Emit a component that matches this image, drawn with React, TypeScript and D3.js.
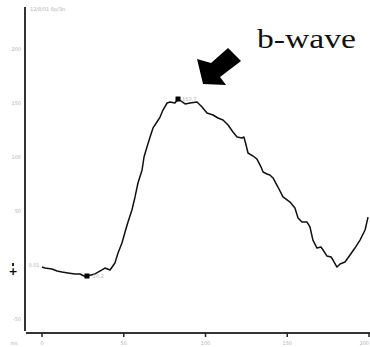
import React, { useRef, useEffect } from 'react';
import * as d3 from 'd3';

// ERG trace (ms, µV)
const timeMs = [
  0, 1.8, 6.1, 9.2, 12.2, 15.9, 20.2, 23.2, 25.7, 27.5, 32.4, 36.7, 38.5, 41.6,
  44.6, 46.5, 48.9, 50.8, 52.6, 55.0, 56.9, 58.7, 61.2, 62.4, 64.2, 66.1, 67.9,
  70.3, 72.2, 74.0, 76.5, 78.3, 81.3, 83.2, 87.5, 90.5, 94.8, 97.9, 100.9, 104.6,
  107.6, 110.7, 113.8, 116.8, 119.3, 122.3, 123.5, 124.8, 126.0, 129.1, 131.5,
  134.0, 135.2, 137.6, 139.4, 141.3, 144.3, 147.4, 151.7, 154.7, 156.6, 159.0,
  162.1, 163.9, 165.7, 168.2, 170.6, 171.9, 174.3, 176.8, 178.0, 180.4, 182.3,
  185.3, 188.4, 191.4, 194.5, 197.6, 199.4,
];
const amplitude = [
  -1.9, -2.8, -3.7, -5.6, -6.5, -7.4, -8.3, -8.3, -10.2, -10.2, -8.3, -4.6, -2.8, -4.6,
  1.9, 11.1, 20.4, 30.6, 39.8, 50.9, 63.0, 75.9, 88.0, 100.0, 109.3, 118.5, 126.9,
  132.4, 137.0, 143.5, 150.0, 150.9, 150.0, 153.7, 149.1, 150.0, 150.9, 146.3, 140.7, 138.9,
  136.1, 134.3, 129.6, 123.1, 118.5, 117.6, 118.5, 111.1, 103.7, 100.9, 98.1,
  90.7, 86.1, 84.3, 83.3, 80.6, 72.2, 63.0, 58.3, 52.8, 43.5, 39.8,
  39.8, 35.2, 23.1, 15.7, 16.7, 13.9, 8.3, 7.4, 4.6, -1.9, 0.9,
  2.8, 9.3, 15.7, 23.1, 32.4, 44.4,
];
const xTicks = [0, 50, 100, 150, 200];
const yTicks = [200, 150, 100, 50, -50];
const aWave = { t: 27.5, v: -10.2, label: '-10.2' };
const bWave = { t: 83.2, v: 153.7, label: '153.7' };
const title = '12/8/01 8p/3n';
const startLabel = '0.01';

function ErgChart() {
  const svgRef = useRef<SVGSVGElement>(null);

  useEffect(() => {
    const svg = d3.select(svgRef.current);
    svg.selectAll('*').remove();

    const x = d3.scaleLinear().domain([0, 200]).range([42, 369]);
    const y = d3.scaleLinear().domain([0, 150]).range([265, 103]);
    const grey = '#b4b4b4';
    const data = timeMs.map((t, i) => ({ t, v: amplitude[i] }));

    // axes
    svg.append('line')
      .attr('x1', 25).attr('x2', 25).attr('y1', 7).attr('y2', 331)
      .attr('stroke', '#333').attr('stroke-width', 2);
    svg.append('line')
      .attr('x1', 26).attr('x2', 370).attr('y1', 333).attr('y2', 333)
      .attr('stroke', '#333').attr('stroke-width', 2);

    svg.append('g')
      .selectAll('line')
      .data(xTicks)
      .enter().append('line')
      .attr('x1', d => x(d)).attr('x2', d => x(d))
      .attr('y1', 333).attr('y2', 337)
      .attr('stroke', '#222').attr('stroke-width', 1.5);

    // last label would run off the right edge, so anchor it at its end
    const last = xTicks[xTicks.length - 1];
    svg.append('g')
      .attr('font-family', 'DejaVu Sans, sans-serif')
      .attr('font-size', 5)
      .attr('fill', grey)
      .selectAll('text')
      .data(xTicks)
      .enter().append('text')
      .attr('x', d => (d === last ? 369 : x(d)))
      .attr('y', 345)
      .attr('text-anchor', d => (d === last ? 'end' : 'middle'))
      .text(d => d);

    svg.append('text')
      .attr('x', 14).attr('y', 345)
      .attr('font-family', 'DejaVu Sans, sans-serif')
      .attr('font-size', 5).attr('fill', grey)
      .attr('text-anchor', 'middle')
      .text('ms');

    svg.append('g')
      .attr('font-family', 'DejaVu Sans, sans-serif')
      .attr('font-size', 5)
      .attr('fill', grey)
      .attr('text-anchor', 'end')
      .selectAll('text')
      .data(yTicks)
      .enter().append('text')
      .attr('x', 21)
      .attr('y', d => y(d) + 2)
      .text(d => d);

    // zero marker and cursor cross
    svg.append('rect')
      .attr('x', 12).attr('y', y(0) - 2).attr('width', 2).attr('height', 3)
      .attr('fill', '#222');
    svg.append('text')
      .attr('x', 13).attr('y', y(0) + 10)
      .attr('font-family', 'DejaVu Sans, sans-serif')
      .attr('font-size', 11).attr('font-weight', 'bold')
      .attr('text-anchor', 'middle')
      .text('+');

    svg.append('text')
      .attr('x', 30).attr('y', 11)
      .attr('font-family', 'DejaVu Sans, sans-serif')
      .attr('font-size', 5).attr('fill', grey)
      .text(title);

    svg.append('text')
      .attr('x', 34).attr('y', y(0) + 2)
      .attr('font-family', 'DejaVu Sans, sans-serif')
      .attr('font-size', 5).attr('fill', grey)
      .attr('text-anchor', 'middle')
      .text(startLabel);

    // trace
    const line = d3.line<{ t: number; v: number }>()
      .x(d => x(d.t))
      .y(d => y(d.v));
    svg.append('path')
      .datum(data)
      .attr('d', line)
      .attr('fill', 'none')
      .attr('stroke', '#111')
      .attr('stroke-width', 1.5)
      .attr('stroke-linejoin', 'round');

    // a/b-wave markers
    [aWave, bWave].forEach(m => {
      svg.append('rect')
        .attr('x', x(m.t) - 2.5).attr('y', y(m.v) - 2.5)
        .attr('width', 5).attr('height', 5)
        .attr('fill', '#000');
      svg.append('text')
        .attr('x', x(m.t) + 4).attr('y', y(m.v) + 1.5)
        .attr('font-family', 'DejaVu Sans, sans-serif')
        .attr('font-size', 5).attr('fill', grey)
        .text(m.label);
    });

    // annotation arrow pointing at the b-wave peak
    const px = x(bWave.t);
    const py = y(bWave.v);
    const arrow = [
      [50, -51], [63, -38], [42, -22], [48, -14], [25, -15], [19, -40], [33, -36],
    ].map(([dx, dy]) => [px + dx, py + dy]);
    svg.append('polygon')
      .attr('points', arrow.map(p => p.join(',')).join(' '))
      .attr('fill', '#000');

    svg.append('text')
      .attr('x', 257).attr('y', 48)
      .attr('font-family', 'Liberation Serif, Times New Roman, serif')
      .attr('font-size', 28)
      .attr('fill', '#111')
      .attr('textLength', 99)
      .attr('lengthAdjust', 'spacingAndGlyphs')
      .text('b-wave');
  }, []);

  return (
    <svg
      ref={svgRef}
      width={370}
      height={347}
      style={{ position: 'absolute', left: 0, top: 0, background: '#fff' }}
    />
  );
}

export default function App() {
  return <ErgChart />;
}
